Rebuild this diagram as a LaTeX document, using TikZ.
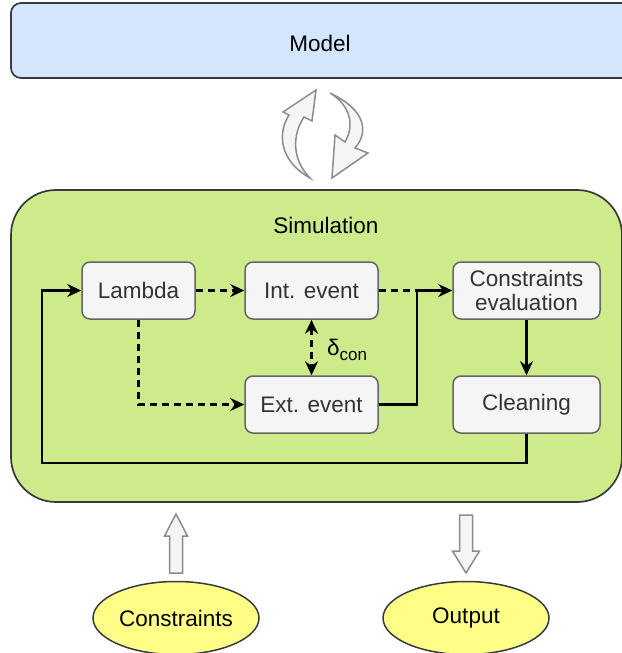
\documentclass[tikz,border=0pt]{standalone}
\usepackage{fontspec}
\setmainfont{Liberation Sans}
\usetikzlibrary{arrows.meta,shapes.geometric}

\definecolor{modelfill}{HTML}{D4E6FC}
\definecolor{simfill}{HTML}{CDEB8B}
\definecolor{darkedge}{HTML}{36393D}
\definecolor{boxfill}{HTML}{F5F5F5}
\definecolor{boxedge}{HTML}{666666}
\definecolor{boxtext}{HTML}{333333}
\definecolor{ellfill}{HTML}{FFFF88}
\definecolor{blockedge}{HTML}{8C8C8C}

\tikzset{
  every node/.style={font=\fontsize{22.5}{25}\selectfont},
  flowtip/.tip={Stealth[length=14pt,width=13pt,inset=4.5pt]},
  stepbox/.style={draw=boxedge, fill=boxfill, line width=1.5pt, rounded corners=8pt,
    text=boxtext, align=center, inner sep=0pt},
  oval/.style={ellipse, draw=darkedge, fill=ellfill, line width=1.5pt,
    minimum width=166pt, minimum height=73pt, inner sep=0pt},
  flow/.style={line width=2.2pt, -{flowtip}},
  dashline/.style={line width=2.2pt, dash pattern=on 7pt off 5pt},
  blockarrow/.style={draw=blockedge, fill=boxfill, line width=1.5pt, line join=miter},
}

\begin{document}
\begin{tikzpicture}[x=1pt, y=-1pt]
\useasboundingbox (0,0) rectangle (621,653);

% outer containers
\draw[draw=darkedge, fill=modelfill, line width=1.7pt, rounded corners=10pt]
  (11,3) rectangle (640,78);
\node (model) at (320,43) {Model};

\draw[draw=darkedge, fill=simfill, line width=1.7pt, rounded corners=45pt]
  (11,190) rectangle (622,502);
\node (sim) at (326,225) {Simulation};

% exchange arrows between model and simulation
\path[blockarrow] (310,178) .. controls (278,160) and (278,132) .. (289,115)
  -- (283,112) -- (316,90) -- (312,121) -- (304,117)
  .. controls (292,135) and (292,160) .. (310,178) -- cycle;
\path[blockarrow] (330,93) .. controls (366,110) and (369,132) .. (355,148)
  -- (368,153) -- (332,178) -- (335,135) -- (345,142)
  .. controls (355,125) and (350,105) .. (330,93) -- cycle;

% process steps
\node[stepbox, minimum width=113pt, minimum height=57pt] (lambda) at (138.5,290.5) {Lambda};
\node[stepbox, minimum width=133pt, minimum height=57pt] (int) at (311.5,290.5) {Int. event};
\node[stepbox, minimum width=133pt, minimum height=57pt] (ext) at (311.5,404.5) {Ext. event};
\node[stepbox, minimum width=147pt, minimum height=57pt] (ceval) at (526.5,290.5)
  {Constraints\\[-1pt]evaluation};
\node[stepbox, minimum width=147pt, minimum height=57pt] (clean) at (526.5,404.5) {Cleaning};

\coordinate (join) at (417,290.5);
\coordinate (loopbl) at (42,463);

% connectors
\draw[dashline, -{flowtip}] (lambda) -- (int);
\draw[dashline, -{flowtip}] (lambda.south) |- (ext.west);
\draw[dashline] (int.east) -- (join);
\draw[flow] (ext.east) -| (join) -- (ceval.west);
\draw[flow] (ceval) -- (clean);
\draw[flow] (clean.south) |- (loopbl) |- (lambda.west);
\draw[dashline, {flowtip}-{flowtip}] (int.south) -- (ext.north);
\node[anchor=west, inner sep=0pt] (delta) at (327,350)
  {δ\raisebox{-0.45ex}{\fontsize{17}{19}\selectfont con}};

% inputs and outputs
\node[oval] (cons) at (176,618) {Constraints};
\node[oval] (out) at (466,618) {Output};

\path[blockarrow] (169.5,573) -- (169.5,536) -- (164.5,536) -- (176,514)
  -- (187.5,536) -- (182.5,536) -- (182.5,573) -- cycle;
\path[blockarrow] (459.5,515) -- (459.5,551) -- (452.5,551) -- (466,573)
  -- (479.5,551) -- (472.5,551) -- (472.5,515) -- cycle;
\end{tikzpicture}
\end{document}
